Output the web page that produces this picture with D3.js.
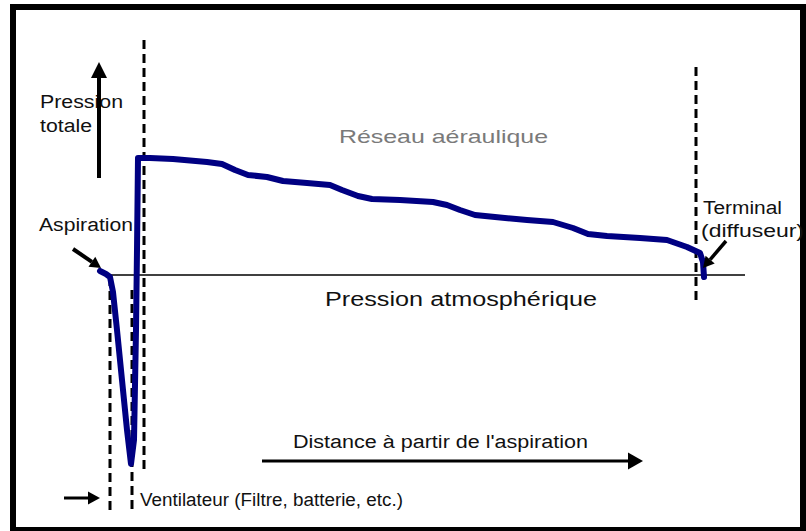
<!DOCTYPE html>
<html>
<head>
<meta charset="utf-8">
<script src="https://cdn.jsdelivr.net/npm/d3@7/dist/d3.min.js"></script>
<style>
  html, body { margin: 0; padding: 0; background: #fff; }
  svg { display: block; }
  text { font-family: "Liberation Sans", Arial, sans-serif; }
</style>
</head>
<body>
<script>
// Total pressure along the air network, relative to atmospheric pressure (0)
const distance = [0, 1.2, 2, 2.6, 3.4, 4.4, 5.4, 6.2, 6.8, 7.2, 7.4, 7.6, 10, 14.6, 21.4, 24.4,
  27, 29.6, 33.4, 36.6, 41.4, 46, 48.4, 51.6, 54.4, 60, 66.6, 69.4, 72, 75, 79, 85.4, 90.6,
  94.6, 97.6, 101.4, 108, 113.4, 117.4, 120, 120.6, 120.8];
const pressure = [4, 1, -2, -17, -55, -105, -155, -189, -165, -55, 25, 117, 117, 116, 113, 111,
  105, 100, 98, 94, 92, 90, 85, 79, 76, 75, 73, 70, 65, 60, 58, 55, 53,
  47, 41, 39, 37, 35, 28, 22, 13, -2];

// Section boundaries (dashed verticals): position and vertical extent
const sectionX = [2, 6.4, 8.8, 119.2];
const sectionTop = [-2, -15, 235, 208];
const sectionBottom = [-239, -239, -195, -25];

// Atmospheric reference line
const atmoFrom = 2, atmoTo = 129, atmoLevel = 0;

const W = 806, H = 531;
const svg = d3.select("body").append("svg").attr("width", W).attr("height", H);

const x = d3.scaleLinear().domain([0, 120]).range([100, 700]);
const y = d3.scaleLinear().domain([-200, 120]).range([475, 155]);

// Frame
svg.append("rect").attr("x", 13).attr("y", 7).attr("width", 790).attr("height", 523)
  .attr("fill", "none").attr("stroke", "#000").attr("stroke-width", 6);

// Atmospheric pressure line
svg.append("line")
  .attr("x1", x(atmoFrom)).attr("x2", x(atmoTo))
  .attr("y1", y(atmoLevel)).attr("y2", y(atmoLevel))
  .attr("stroke", "#000").attr("stroke-width", 1.5);

// Dashed section boundaries
svg.selectAll("line.section").data(sectionX).join("line")
  .attr("class", "section")
  .attr("x1", d => x(d)).attr("x2", d => x(d))
  .attr("y1", (d, i) => y(sectionTop[i])).attr("y2", (d, i) => y(sectionBottom[i]))
  .attr("stroke", "#000").attr("stroke-width", 3).attr("stroke-dasharray", "9,5");

// Pressure curve
const pts = distance.map((d, i) => [d, pressure[i]]);
svg.append("path")
  .attr("d", d3.line().x(d => x(d[0])).y(d => y(d[1]))(pts))
  .attr("fill", "none").attr("stroke", "#000082").attr("stroke-width", 6)
  .attr("stroke-linejoin", "round").attr("stroke-linecap", "round");

// Arrow helper: straight shaft with filled triangular head
function arrow(x1, y1, x2, y2, w, headLen, headW) {
  const a = Math.atan2(y2 - y1, x2 - x1);
  const bx = x2 - headLen * Math.cos(a), by = y2 - headLen * Math.sin(a);
  svg.append("line").attr("x1", x1).attr("y1", y1).attr("x2", bx).attr("y2", by)
    .attr("stroke", "#000").attr("stroke-width", w);
  const px = -Math.sin(a) * headW / 2, py = Math.cos(a) * headW / 2;
  svg.append("path")
    .attr("d", `M${x2},${y2}L${bx + px},${by + py}L${bx - px},${by - py}Z`)
    .attr("fill", "#000");
}

// Labels
function label(txt, tx, ty, size, len, color) {
  svg.append("text").attr("x", tx).attr("y", ty)
    .attr("font-size", size).attr("fill", color || "#111")
    .attr("textLength", len).attr("lengthAdjust", "spacingAndGlyphs")
    .text(txt);
}

label("Pression", 40, 108, 18, 83);
label("totale", 40, 132, 18, 52);
label("Réseau aéraulique", 339, 143, 19, 209, "#7a7a7a");
label("Aspiration", 39, 231, 18, 94);
label("Pression atmosphérique", 325, 306, 20, 272);
label("Terminal", 703, 214, 18, 79);
label("(diffuseur)", 701, 237, 18, 103);
label("Distance à partir de l'aspiration", 293, 448, 18, 295);
label("Ventilateur (Filtre, batterie, etc.)", 140, 506, 18, 263);

// Arrows
arrow(99, 178, 99, 62, 4, 16, 16);          // total pressure axis
arrow(73, 249, 101, 268, 4, 11, 12);        // aspiration
arrow(726, 241, 703, 268, 3.5, 11, 12);     // terminal
arrow(64, 498, 100, 498, 3, 12, 13);        // fan width marker
arrow(262, 461, 643, 461, 3, 15, 17);       // distance axis
</script>
</body>
</html>
